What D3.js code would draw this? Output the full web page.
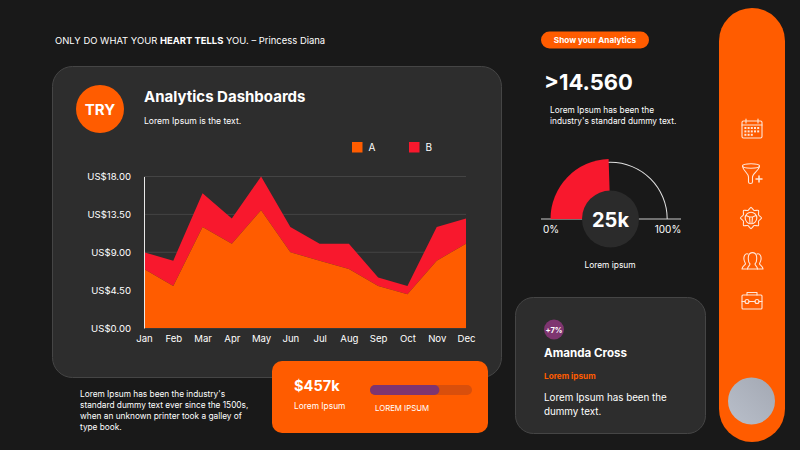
<!DOCTYPE html>
<html>
<head>
<meta charset="utf-8">
<script src="https://cdn.jsdelivr.net/npm/d3@7"></script>
<style>
  html, body { margin: 0; padding: 0; background: #191919; }
  svg { display: block; }
  text { font-family: "Inter", "Lato", sans-serif; fill: #fff; }
</style>
</head>
<body>
<svg id="chart" width="800" height="450"></svg>
<script>
var months = ["Jan","Feb","Mar","Apr","May","Jun","Jul","Aug","Sep","Oct","Nov","Dec"];
var seriesA = [7,5,12,10,14,9,8,7,5,4,8,10];
var seriesB = [2,3,4,3,4,3,2,3,1,1,4,3];
var yTicks = [0,4.5,9,13.5,18];
var legendNames = ["A","B"];
var gaugeValue = 49;
var barValue = 68;

var orange = "#ff5c00", red = "#f8182d", purple = "#7e3570";
var svg = d3.select("#chart");

function label(x, y, str, size, weight, color, anchor) {
  return svg.append("text").attr("x", x).attr("y", y).text(str)
    .style("font-size", size + "px").style("font-weight", weight || 400)
    .style("fill", color || "#fff").attr("text-anchor", anchor || "start");
}
function card(x, y, w, h, r, fill, stroke) {
  return svg.append("rect").attr("x", x).attr("y", y).attr("width", w).attr("height", h)
    .attr("rx", r).attr("fill", fill).attr("stroke", stroke || "none");
}

svg.append("rect").attr("width", 800).attr("height", 450).attr("fill", "#191919");

// quote
var quote = label(55, 44, "ONLY DO WHAT YOUR ", 9.45);
quote.append("tspan").text("HEART TELLS").style("font-weight", 700);
quote.append("tspan").text(" YOU. – Princess Diana");

// main card
card(52.5, 66.5, 449, 311, 20, "#2d2d2d", "#454545");
svg.append("circle").attr("cx", 100).attr("cy", 109).attr("r", 24).attr("fill", orange);
label(100, 114.5, "TRY", 15, 700, "#fff", "middle");
label(144, 102, "Analytics Dashboards", 15, 700);
label(144, 124, "Lorem Ipsum is the text.", 8.6);

// legend
var legendX = d3.scaleOrdinal().domain(legendNames).range([352, 409]);
var legendColor = d3.scaleOrdinal().domain(legendNames).range([orange, red]);
legendNames.forEach(function(n){
  svg.append("rect").attr("x", legendX(n)).attr("y", 142).attr("width", 10.5).attr("height", 10.5).attr("fill", legendColor(n));
  label(legendX(n) + 16.5, 151, n, 10);
});

// area chart
var x = d3.scalePoint().domain(months).range([144, 466]);
var y = d3.scaleLinear().domain([0, 18]).range([328, 176.5]);

var rows = months.map(function(m, i){ return {month: m, A: seriesA[i], B: seriesB[i]}; });
var stacked = d3.stack().keys(legendNames)(rows);

svg.append("g").selectAll("line").data(yTicks).enter().append("line")
  .attr("x1", 144).attr("x2", 466)
  .attr("y1", function(d){ return y(d); }).attr("y2", function(d){ return y(d); })
  .attr("stroke", "#444").attr("stroke-width", 1);

var area = d3.area()
  .x(function(d){ return x(d.data.month); })
  .y0(function(d){ return y(d[0]); })
  .y1(function(d){ return y(d[1]); });

svg.append("g").selectAll("path").data(stacked.slice().reverse()).enter().append("path")
  .attr("d", area).attr("fill", function(d){ return legendColor(d.key); });

var yAxis = svg.append("g").attr("transform", "translate(144,0)")
  .call(d3.axisLeft(y).tickValues(yTicks).tickSize(0).tickPadding(13)
    .tickFormat(function(d){ return "US$" + d3.format(".2f")(d); }));
yAxis.select(".domain").attr("stroke", "#e8e8e8");
yAxis.selectAll("text").style("font-size", "9.6px").attr("fill", "#fff");

var xAxis = svg.append("g").attr("transform", "translate(0,328)")
  .call(d3.axisBottom(x).tickSize(0).tickPadding(7));
xAxis.select(".domain").remove();
xAxis.selectAll("text").style("font-size", "9.6px").attr("fill", "#fff");

// bottom left text
["Lorem Ipsum has been the industry's","standard dummy text ever since the 1500s,","when an unknown printer took a galley of","type book."]
  .forEach(function(t, i){ label(80, 397 + i * 11, t, 8.3); });

// orange card
card(272, 361, 216, 72, 10, orange);
label(294, 391, "$457k", 14.6, 700);
label(294, 409, "Lorem Ipsum", 8.4);
label(375, 411, "LOREM IPSUM", 7.8);
var barX = d3.scaleLinear().domain([0, 100]).range([370, 472]);
card(barX(0), 385, barX(100) - barX(0), 10, 5, "#d94f0c");
card(barX(0), 385, barX(barValue) - barX(0), 10, 5, purple);

// top right
card(541, 31.5, 108, 17, 8.5, orange);
label(595, 43, "Show your Analytics", 8.2, 700, "#fff", "middle");
label(544, 90, ">14.560", 22, 700);
label(550, 113, "Lorem Ipsum has been the", 8.3);
label(550, 124, "industry's standard dummy text.", 8.3);

// gauge
var gx = 610.5, gy = 219;
var angle = d3.scaleLinear().domain([0, 100]).range([-Math.PI / 2, Math.PI / 2]);
svg.append("line").attr("x1", 541).attr("x2", 681).attr("y1", gy).attr("y2", gy)
  .attr("stroke", "#c9c9c9").attr("stroke-width", 1.2);
svg.append("path").attr("transform", "translate(" + gx + "," + gy + ")")
  .attr("d", d3.arc()({innerRadius: 56.2, outerRadius: 57.2, startAngle: angle(0), endAngle: angle(100)}))
  .attr("fill", "#e0e0e0");
svg.append("path").attr("transform", "translate(" + gx + "," + gy + ")")
  .attr("d", d3.arc()({innerRadius: 0, outerRadius: 60, startAngle: angle(0), endAngle: angle(gaugeValue)}))
  .attr("fill", red);
svg.append("circle").attr("cx", gx).attr("cy", gy).attr("r", 28.5).attr("fill", "#2b2b2b");
label(gx, 227, "25k", 20, 700, "#fff", "middle");
label(551, 232.5, "0%", 10, 400, "#fff", "middle");
label(668, 232.5, "100%", 10, 400, "#fff", "middle");
label(610, 268, "Lorem ipsum", 8.4, 400, "#fff", "middle");

// person card
card(515.5, 297.5, 190, 136, 18, "#2d2d2d", "#454545");
svg.append("circle").attr("cx", 554).attr("cy", 329.5).attr("r", 10).attr("fill", purple);
label(554, 333, "+7%", 7.6, 700, "#fff", "middle");
label(544, 357, "Amanda Cross", 11.6, 700);
label(544, 378.5, "Lorem ipsum", 8.2, 700, orange);
label(544, 401, "Lorem Ipsum has been the", 9.8);
label(544, 415, "dummy text.", 9.8);

// sidebar
card(719, 8, 66, 434, 33, orange);
var avatar = svg.append("defs").append("linearGradient").attr("id", "avatar")
  .attr("x1", "0").attr("y1", "1").attr("x2", "1").attr("y2", "0");
avatar.append("stop").attr("offset", "0").attr("stop-color", "#b9bfca");
avatar.append("stop").attr("offset", "1").attr("stop-color", "#a3a8b3");
svg.append("circle").attr("cx", 751.5).attr("cy", 401).attr("r", 23.5).attr("fill", "url(#avatar)");

function icon(cx, cy) {
  return svg.append("g").attr("transform", "translate(" + cx + "," + cy + ")")
    .attr("fill", "none").attr("stroke", "#ffe6d8").attr("stroke-width", 1.1)
    .attr("stroke-linecap", "round").attr("stroke-linejoin", "round");
}
// calendar
var cal = icon(752, 129);
cal.append("rect").attr("x", -10).attr("y", -8).attr("width", 20).attr("height", 17).attr("rx", 1.5);
cal.append("path").attr("d", "M-10,-4H10M-6,-10V-6M6,-10V-6");
d3.range(3).forEach(function(r){
  d3.range(5).forEach(function(c){
    if (r === 2 && c > 2) return;
    cal.append("rect").attr("x", -7.6 + c * 3.2).attr("y", -2 + r * 3.4).attr("width", 2).attr("height", 2)
      .attr("fill", "#ffe6d8").attr("stroke", "none");
  });
});
// funnel
var fun = icon(751, 173);
fun.append("ellipse").attr("cx", 0).attr("cy", -7).attr("rx", 8.5).attr("ry", 2.2);
fun.append("path").attr("d", "M-8.5,-7C-8,-2 -2.5,0 -2.5,4V9C-2.5,11 1.5,11 1.5,9V4C1.5,0 8,-2 8.5,-7");
fun.append("path").attr("d", "M5,6H11M8,3V9").attr("stroke-width", 1.5);
// gear
var gear = icon(751, 218);
var gearPts = d3.range(16).map(function(i){
  var a = i / 16 * 2 * Math.PI, rad = i % 2 ? 8.2 : 10.6;
  return [rad * Math.sin(a), -rad * Math.cos(a)];
});
gear.append("path").attr("d", d3.line().curve(d3.curveCardinalClosed.tension(0.3))(gearPts));
gear.append("circle").attr("r", 5.8);
gear.append("path").attr("d", "M-5,-2.5L-1.5,-1H1.5L5,-2.5M-1.5,-1L-1,5M1.5,-1L1,5");
// people
var ppl = icon(752.5, 260.5);
ppl.append("path").attr("d", "M-5,8.5C-5,6 -2.5,5 -2.5,3.5C-4,2 -4.5,-1 -4,-4.5C-3,-9 3,-9 4,-4.5C4.5,-1 4,2 2.5,3.5C2.5,5 5,6 5,8.5Z");
ppl.append("path").attr("d", "M-4.5,-6.5C-7.5,-7.5 -9,-4 -8.5,-1C-8.3,1 -7,2.5 -7,3.5C-8,5 -10.5,6 -10.5,8.5H-5");
ppl.append("path").attr("d", "M4.5,-6.5C7.5,-7.5 9,-4 8.5,-1C8.3,1 7,2.5 7,3.5C8,5 10.5,6 10.5,8.5H5");
// toolbox
var box = icon(752, 300.5);
box.append("rect").attr("x", -10).attr("y", -5.5).attr("width", 20).attr("height", 14).attr("rx", 1);
box.append("path").attr("d", "M-5,-5.5V-8H5V-5.5M-10,1H-7M-3,1H3M7,1H10");
box.append("circle").attr("cx", -5).attr("cy", 1).attr("r", 2);
box.append("circle").attr("cx", 5).attr("cy", 1).attr("r", 2);
</script>
</body>
</html>
